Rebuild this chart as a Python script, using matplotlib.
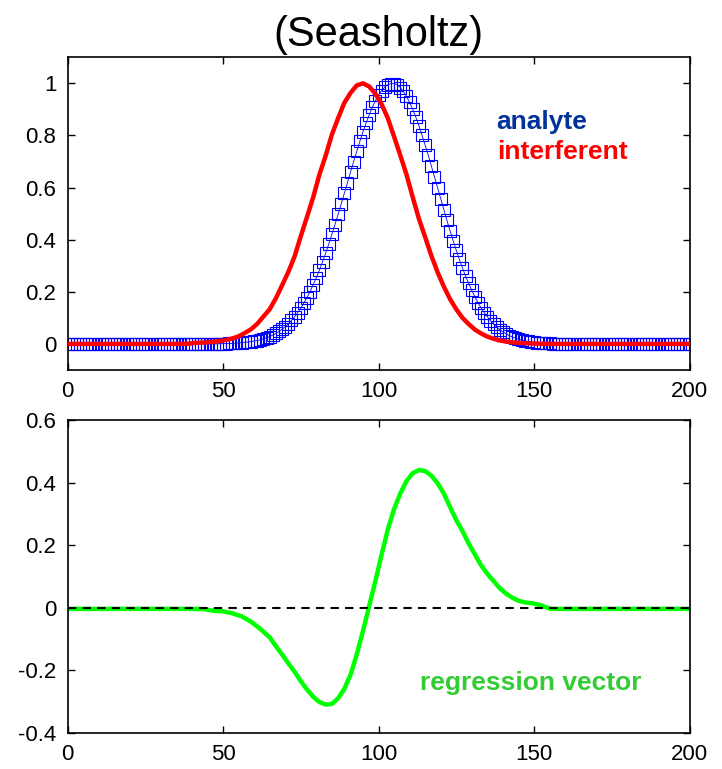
import matplotlib
matplotlib.use("Agg")
import matplotlib.pyplot as plt

plt.rcParams["font.family"] = ["Liberation Sans", "DejaVu Sans"]

# analyte spectrum, one value per channel 0..200
ANALYTE_X = list(range(0, 201))
ANALYTE_Y = (
    [0.0] * 49
    + [0.001, 0.001, 0.001, 0.002, 0.002, 0.003, 0.004, 0.005, 0.006, 0.007,   # 49-58
       0.009, 0.011, 0.013, 0.016, 0.020, 0.024, 0.028, 0.034, 0.040, 0.048,   # 59-68
       0.056, 0.066, 0.077, 0.090, 0.104, 0.120, 0.137, 0.157, 0.178, 0.201,   # 69-78
       0.227, 0.254, 0.283, 0.315, 0.348, 0.383, 0.420, 0.458, 0.497, 0.537,   # 79-88
       0.578, 0.619, 0.660, 0.700, 0.739, 0.777, 0.814, 0.848, 0.879, 0.908,   # 89-98
       0.933, 0.955, 0.972, 0.986, 0.995, 0.999, 0.999, 0.995, 0.984, 0.969,   # 99-108
       0.950, 0.927, 0.900, 0.870, 0.837, 0.801, 0.763, 0.724, 0.683, 0.641,   # 109-118
       0.599, 0.557, 0.515, 0.474, 0.434, 0.396, 0.359, 0.324, 0.291, 0.260,   # 119-128
       0.232, 0.205, 0.181, 0.158, 0.138, 0.120, 0.104, 0.089, 0.076, 0.065,   # 129-138
       0.055, 0.046, 0.039, 0.032, 0.027, 0.022, 0.018, 0.015, 0.012, 0.010,   # 139-148
       0.008, 0.006, 0.005, 0.004, 0.003, 0.002, 0.002, 0.001, 0.001, 0.001,   # 149-158
       0.001]                                                                  # 159
    + [0.0] * 41
)

# interferent spectrum
INTERF_X = [0, 37, 39, 41, 43, 45, 47, 49, 51, 53, 55, 57, 59, 61, 63, 65, 67,
            69, 71, 73, 75, 77, 79, 81, 83, 85, 87, 89, 91, 93, 95, 97, 99, 101,
            103, 105, 107, 109, 111, 113, 115, 117, 119, 121, 123, 125, 127,
            129, 131, 133, 135, 137, 139, 141, 143, 145, 147, 149, 151, 155, 200]
INTERF_Y = [0.0, 0.0, 0.001, 0.004, 0.005, 0.006, 0.008, 0.011, 0.015, 0.021,
            0.029, 0.042, 0.056, 0.077, 0.105, 0.133, 0.175, 0.225, 0.276,
            0.335, 0.413, 0.487, 0.563, 0.650, 0.722, 0.803, 0.866, 0.925,
            0.963, 0.992, 1.000, 0.988, 0.960, 0.920, 0.866, 0.796, 0.724,
            0.650, 0.563, 0.480, 0.410, 0.338, 0.275, 0.220, 0.172, 0.133,
            0.100, 0.076, 0.055, 0.040, 0.028, 0.020, 0.013, 0.009, 0.006,
            0.004, 0.003, 0.002, 0.001, 0.0, 0.0]

# regression vector
REG_X = [0, 40, 44, 47, 50, 53, 56, 59, 62, 65, 67, 69, 71, 73, 75, 77, 79, 81,
         83, 85, 87, 89, 91, 93, 95, 97, 99, 101, 103, 105, 107, 109, 111, 113,
         115, 117, 119, 121, 123, 125, 127, 129, 131, 133, 135, 137, 139, 141,
         143, 145, 147, 150, 152, 155, 157, 200]
REG_Y = [-0.004, -0.004, -0.005, -0.010, -0.012, -0.018, -0.028, -0.045,
         -0.068, -0.095, -0.123, -0.150, -0.178, -0.205, -0.235, -0.262,
         -0.285, -0.302, -0.310, -0.308, -0.290, -0.260, -0.215, -0.150,
         -0.075, 0.005, 0.085, 0.170, 0.250, 0.315, 0.365, 0.405, 0.430,
         0.440, 0.437, 0.422, 0.398, 0.365, 0.322, 0.280, 0.245, 0.205,
         0.170, 0.135, 0.108, 0.085, 0.062, 0.045, 0.032, 0.022, 0.017,
         0.013, 0.008, -0.003, -0.004, -0.004]

X_TICKS = [0, 50, 100, 150, 200]
TOP_Y_TICKS = [0, 0.2, 0.4, 0.6, 0.8, 1]
BOT_Y_TICKS = [-0.4, -0.2, 0, 0.2, 0.4, 0.6]


def style_axes(ax):
    ax.tick_params(direction="in", top=True, right=True, length=5, width=1,
                   labelsize=16, pad=8)
    for spine in ax.spines.values():
        spine.set_linewidth(1.2)


fig = plt.figure(figsize=(7.22, 7.69), dpi=100)
ax_top = fig.add_axes([0.0935, 0.5189, 0.8615, 0.4066])
ax_bot = fig.add_axes([0.0935, 0.0472, 0.8615, 0.4066])

# top panel: analyte + interferent
ax_top.plot(ANALYTE_X, ANALYTE_Y, color="blue", linewidth=0.6, marker="s",
            markersize=8, markerfacecolor="none", markeredgecolor="blue",
            markeredgewidth=0.8, zorder=2)
ax_top.plot(INTERF_X, INTERF_Y, color="red", linewidth=3.2, zorder=3)
ax_top.set_xlim(0, 200)
ax_top.set_ylim(-0.1, 1.1)
ax_top.set_xticks(X_TICKS)
ax_top.set_yticks(TOP_Y_TICKS)
ax_top.set_yticklabels(["0", "0.2", "0.4", "0.6", "0.8", "1"])
style_axes(ax_top)
ax_top.text(138, 0.85, "analyte", color="#003399", fontsize=19,
            fontweight="bold", va="center", ha="left")
ax_top.text(138, 0.735, "interferent", color="red", fontsize=19,
            fontweight="bold", va="center", ha="left")
ax_top.set_title("(Seasholtz)", fontsize=30, pad=8)

# bottom panel: regression vector
ax_bot.axhline(0, color="black", linewidth=1.5, linestyle=(0, (4, 3)), zorder=3)
ax_bot.plot(REG_X, REG_Y, color="#00ff00", linewidth=3.2, zorder=2)
ax_bot.set_xlim(0, 200)
ax_bot.set_ylim(-0.4, 0.6)
ax_bot.set_xticks(X_TICKS)
ax_bot.set_yticks(BOT_Y_TICKS)
ax_bot.set_yticklabels(["-0.4", "-0.2", "0", "0.2", "0.4", "0.6"])
style_axes(ax_bot)
ax_bot.text(113.5, -0.24, "regression vector", color="#33cc33", fontsize=19,
            fontweight="bold", va="center", ha="left")

fig.savefig("out.png", dpi=100)
